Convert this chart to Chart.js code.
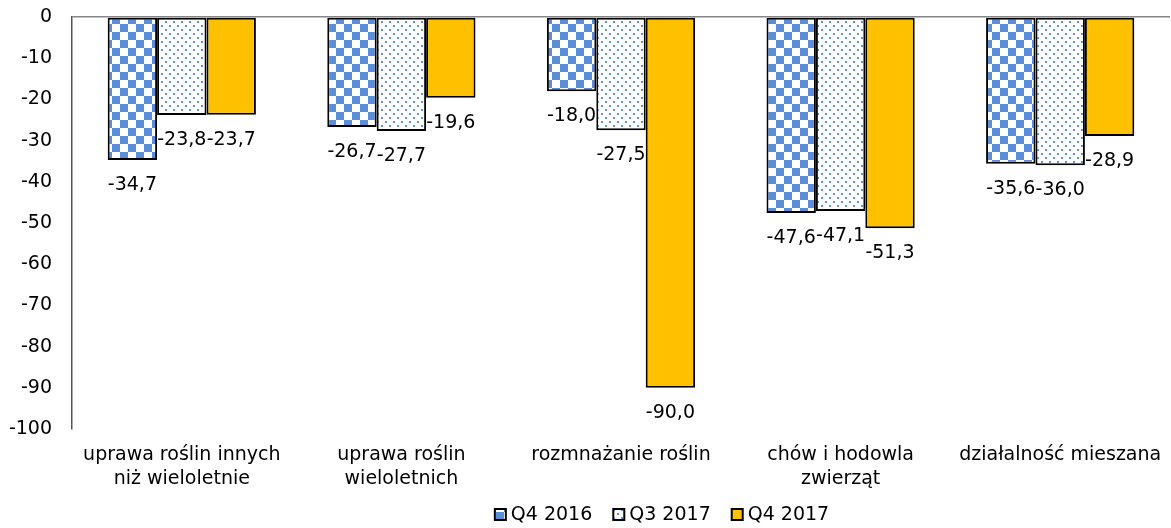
<!DOCTYPE html>
<html lang="pl">
<head>
<meta charset="utf-8">
<script src="https://cdn.jsdelivr.net/npm/chart.js@4/dist/chart.umd.min.js"></script>
<style>
    html, body { margin: 0; padding: 0; background: #fff; }
    #wrap { width: 1171px; height: 528px; position: relative; }
</style>
</head>
<body>
<div id="wrap"><canvas id="chart"></canvas></div>
<script>
const categories = [
    ['uprawa roślin innych', 'niż wieloletnie'],
    ['uprawa roślin', 'wieloletnich'],
    'rozmnażanie roślin',
    ['chów i hodowla', 'zwierząt'],
    'działalność mieszana'
];
const seriesNames = ['Q4 2016', 'Q3 2017', 'Q4 2017'];
const q4_2016 = [-34.7, -26.7, -18.0, -47.6, -35.6];
const q3_2017 = [-23.8, -27.7, -27.5, -47.1, -36.0];
const q4_2017 = [-23.7, -19.6, -90.0, -51.3, -28.9];
const yTicks = [0, -10, -20, -30, -40, -50, -60, -70, -80, -90, -100];

const FONT = '"DejaVu Sans", Verdana, sans-serif';
const BLUE = '#5a8fd8';
const YELLOW = '#ffc000';

// Excel-like pattern fills
function makeChecker() {
    const c = document.createElement('canvas');
    c.width = 16; c.height = 16;
    const g = c.getContext('2d');
    g.fillStyle = '#fff';
    g.fillRect(0, 0, 16, 16);
    g.fillStyle = BLUE;
    g.fillRect(0, 0, 8, 8);
    g.fillRect(8, 8, 8, 8);
    return g.createPattern(c, 'repeat');
}

function makeDots() {
    const c = document.createElement('canvas');
    c.width = 8; c.height = 8;
    const g = c.getContext('2d');
    g.fillStyle = '#fff';
    g.fillRect(0, 0, 8, 8);
    g.fillStyle = '#5f93da';
    g.fillRect(1, 1, 2, 2);
    g.fillRect(5, 5, 2, 2);
    return g.createPattern(c, 'repeat');
}

const fills = [makeChecker(), makeDots(), YELLOW];
const values = [q4_2016, q3_2017, q4_2017];

function fmt(v) {
    return v.toFixed(1).replace('.', ',');
}

// value labels under each bar end
const barLabels = {
    id: 'barLabels',
    afterDatasetsDraw(chart) {
        const ctx = chart.ctx;
        ctx.save();
        ctx.font = '19px ' + FONT;
        ctx.fillStyle = '#000';
        ctx.textAlign = 'center';
        ctx.textBaseline = 'middle';
        chart.data.datasets.forEach((ds, i) => {
            chart.getDatasetMeta(i).data.forEach((bar, j) => {
                ctx.fillText(fmt(ds.data[j]), bar.x, bar.y + 25);
            });
        });
        ctx.restore();
    }
};

// legend drawn at the bottom, shifted like the original
const bottomLegend = {
    id: 'bottomLegend',
    afterDraw(chart) {
        const ctx = chart.ctx;
        ctx.save();
        ctx.font = '19px ' + FONT;
        ctx.textBaseline = 'middle';
        const box = 11, gapBox = 5, gapItem = 21;
        const widths = seriesNames.map(n => ctx.measureText(n).width);
        const total = widths.reduce((a, w) => a + box + gapBox + w, 0) + gapItem * (seriesNames.length - 1);
        let x = 662 - total / 2;
        const y = 514;
        seriesNames.forEach((name, i) => {
            ctx.fillStyle = fills[i];
            ctx.fillRect(x, y - 5, box, box);
            ctx.strokeStyle = '#000';
            ctx.lineWidth = 2;
            ctx.strokeRect(x, y - 5, box, box);
            x += box + gapBox;
            ctx.fillStyle = '#000';
            ctx.fillText(name, x, y + 1);
            x += widths[i] + gapItem;
        });
        ctx.restore();
    }
};

new Chart(document.getElementById('chart'), {
    type: 'bar',
    data: {
        labels: categories,
        datasets: seriesNames.map((name, i) => ({
            label: name,
            data: values[i],
            backgroundColor: fills[i],
            borderColor: '#000',
            borderWidth: 2,
            borderSkipped: false,
            barPercentage: 1,
            categoryPercentage: 0.675
        }))
    },
    options: {
        responsive: true,
        maintainAspectRatio: false,
        animation: false,
        layout: {
            padding: { top: 17, right: 1, left: 0, bottom: 0 }
        },
        plugins: {
            legend: { display: false },
            tooltip: { enabled: false }
        },
        scales: {
            x: {
                grid: { display: false, drawTicks: false },
                border: { display: false },
                ticks: {
                    color: '#000',
                    font: { family: FONT, size: 19, lineHeight: 1.25 },
                    padding: 14,
                    autoSkip: false,
                    maxRotation: 0
                },
                afterFit: scale => {
                    scale.height = 99;
                    scale.paddingLeft = 0;
                    scale.paddingRight = 0;
                }
            },
            y: {
                min: -100,
                max: 0,
                afterBuildTicks: scale => {
                    scale.ticks = yTicks.map(v => ({ value: v }));
                },
                grid: {
                    drawTicks: false,
                    color: ctx => ctx.tick && ctx.tick.value === 0 ? '#868686' : 'rgba(0,0,0,0)',
                    lineWidth: 1.5
                },
                border: { display: true, color: '#555', width: 1.5 },
                ticks: {
                    color: '#000',
                    font: { family: FONT, size: 19 },
                    padding: 20
                },
                afterFit: scale => {
                    scale.width = 72;
                    scale.paddingTop = 0;
                    scale.paddingBottom = 0;
                }
            }
        }
    },
    plugins: [barLabels, bottomLegend]
});
</script>
</body>
</html>
